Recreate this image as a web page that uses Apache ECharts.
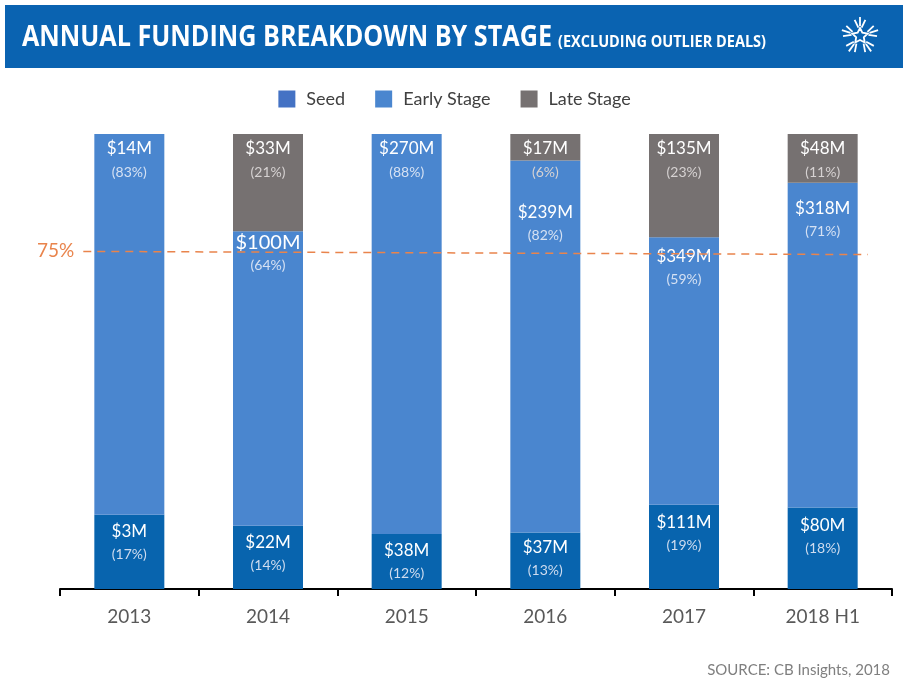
<!DOCTYPE html>
<html>
<head>
<meta charset="utf-8">
<script src="https://cdn.jsdelivr.net/npm/echarts@6/dist/echarts.min.js"></script>
<style>
  html, body { margin: 0; padding: 0; background: #fff; }
  #chart { width: 909px; height: 687px; }
</style>
</head>
<body>
<div id="chart"></div>
<script>
// ---- DATA ----
const categories = ['2013', '2014', '2015', '2016', '2017', '2018 H1'];
const seriesNames = ['Seed', 'Early Stage', 'Late Stage'];
// displayed shares (labels)
const seedPct  = [17, 14, 12, 13, 19, 18];
const earlyPct = [83, 64, 88, 82, 59, 71];
const latePct  = [null, 21, null, 6, 23, 11];
// bar segment heights as drawn (share of 100%)
const seedShare  = [16.3, 13.9, 12.1, 12.4, 18.5, 17.9];
const earlyShare = [83.7, 64.7, 87.9, 81.8, 58.8, 71.4];
const lateShare  = [null, 21.4, null, 5.8, 22.7, 10.7];
// dollar amounts
const seedUsd  = ['$3M', '$22M', '$38M', '$37M', '$111M', '$80M'];
const earlyUsd = ['$14M', '$100M', '$270M', '$239M', '$349M', '$318M'];
const lateUsd  = [null, '$33M', null, '$17M', '$135M', '$48M'];
// 75% reference line (level as drawn at its left and right ends)
const thresholdLabel = '75%';
const thresholdLevel = [74.2, 73.5];

// ---- STYLE ----
const FONT = 'Lato, "Open Sans", sans-serif';
const COL_SEED = '#0864ae';
const COL_EARLY = '#4a86cf';
const COL_LATE = '#767171';
const COL_ORANGE = '#e9844c';
const seedLabelDist  = [6, 6, 6, 4, 7, 7];
const earlyLabelDist = [4, 0, 4, 41, 8, 15];
const lateLabelDist  = [4, 4, 4, 4, 4, 4];
const earlyBig = [false, true, false, false, false, false];

function mkData(vals, dists) {
  return vals.map((v, i) => ({ value: v, label: { distance: dists[i] } }));
}
function mkLabel(usd, pct, pctColor, big) {
  return {
    show: true,
    position: 'insideTop',
    fontFamily: FONT,
    formatter: p => {
      const u = usd[p.dataIndex];
      if (u == null) return '';
      const key = (big && big[p.dataIndex]) ? 'c' : 'a';
      return '{' + key + '|' + u + '}\n{b|(' + pct[p.dataIndex] + '%)}';
    },
    rich: {
      a: { fontFamily: FONT, fontSize: 17, color: '#ffffff', lineHeight: 22 },
      c: { fontFamily: FONT, fontSize: 20, color: '#ffffff', lineHeight: 22 },
      b: { fontFamily: FONT, fontSize: 14, color: pctColor, lineHeight: 24 }
    }
  };
}

// text width helper for fitting header text to the reference widths
const mctx = document.createElement('canvas').getContext('2d');
function fitScale(text, font, target) {
  mctx.font = font;
  return target / mctx.measureText(text).width;
}

const chart = echarts.init(document.getElementById('chart'), null, { renderer: 'canvas' });

// logo starburst
const logo = [];
const cx = 860, cy = 36;
const starPts = [];
for (let k = 0; k < 10; k++) {
  const a = -Math.PI / 2 + k * Math.PI / 5;
  const r = (k % 2 === 0) ? 8 : 4;
  starPts.push([cx + Math.cos(a) * r, cy + Math.sin(a) * r]);
}
logo.push({ type: 'polygon', shape: { points: starPts }, style: { fill: 'none', stroke: '#fff', lineWidth: 1.8 } });
for (let k = 0; k < 5; k++) {
  const a = -Math.PI / 2 + k * 2 * Math.PI / 5;
  [-0.32, 0, 0.32].forEach((da, j) => {
    const r1 = j === 1 ? 10 : 8.5;
    const r2 = j === 1 ? 19 : 17;
    logo.push({
      type: 'line',
      shape: { x1: cx + Math.cos(a + da * 0.6) * r1, y1: cy + Math.sin(a + da * 0.6) * r1,
               x2: cx + Math.cos(a + da) * r2, y2: cy + Math.sin(a + da) * r2 },
      style: { stroke: '#fff', lineWidth: 1.8 }
    });
  });
}

const TITLE_FONT = 'bold 29px "Open Sans", sans-serif';
const SUB_FONT = 'bold 16px "Open Sans", sans-serif';
const titleText = 'ANNUAL FUNDING BREAKDOWN BY STAGE';
const subText = '(EXCLUDING OUTLIER DEALS)';

const option = {
  animation: false,
  backgroundColor: '#ffffff',
  textStyle: { fontFamily: FONT },
  legend: {
    top: 85,
    left: 'center',
    icon: 'rect',
    itemWidth: 17,
    itemHeight: 17,
    itemGap: 30,
    textStyle: { fontFamily: FONT, fontSize: 18, color: '#404040', padding: [0, 0, 0, 6] },
    data: [
      { name: 'Seed', itemStyle: { color: '#4472c4' } },
      { name: 'Early Stage', itemStyle: { color: COL_EARLY } },
      { name: 'Late Stage', itemStyle: { color: COL_LATE } }
    ]
  },
  grid: { left: 60, right: 17, top: 134, bottom: 98 },
  xAxis: [{
    type: 'category',
    data: categories,
    axisLine: { lineStyle: { color: '#000', width: 2 } },
    axisTick: { show: true, length: 7, lineStyle: { color: '#000', width: 2 } },
    axisLabel: { fontFamily: FONT, fontSize: 19, color: '#595959', margin: 18 }
  }, {
    type: 'value', min: 0, max: 100, show: false
  }],
  yAxis: {
    type: 'value', min: 0, max: 100, show: false, splitLine: { show: false }
  },
  series: [
    {
      name: seriesNames[0], type: 'bar', stack: 'total', barWidth: 70,
      itemStyle: { color: COL_SEED },
      data: mkData(seedShare, seedLabelDist),
      label: mkLabel(seedUsd, seedPct, '#cfdcef')
    },
    {
      name: seriesNames[1], type: 'bar', stack: 'total', barWidth: 70,
      itemStyle: { color: COL_EARLY },
      data: mkData(earlyShare, earlyLabelDist),
      label: mkLabel(earlyUsd, earlyPct, '#d5e1f3', earlyBig)
    },
    {
      name: seriesNames[2], type: 'bar', stack: 'total', barWidth: 70,
      itemStyle: { color: COL_LATE },
      data: mkData(lateShare, lateLabelDist),
      label: mkLabel(lateUsd, latePct, '#d6d2d2')
    },
    {
      name: 'threshold', type: 'line', xAxisIndex: 1, data: [], silent: true,
      markLine: {
        symbol: 'none', silent: true,
        lineStyle: { color: COL_ORANGE, type: [8, 6], width: 1.5 },
        label: {
          show: true, position: 'start', distance: 9,
          formatter: thresholdLabel,
          fontFamily: FONT, fontSize: 19, color: COL_ORANGE
        },
        data: [[{ coord: [2.8, thresholdLevel[0]] }, { coord: [97.1, thresholdLevel[1]] }]]
      }
    }
  ],
  graphic: [
    { type: 'rect', shape: { x: 5, y: 5, width: 898, height: 63 }, style: { fill: '#0a63b1' }, z: 0 },
    { type: 'text', x: 22, y: 38, scaleX: fitScale(titleText, TITLE_FONT, 530), z: 2,
      style: { text: titleText, fill: '#fff', font: TITLE_FONT, verticalAlign: 'middle' } },
    { type: 'text', x: 558, y: 42, scaleX: fitScale(subText, SUB_FONT, 208), z: 2,
      style: { text: subText, fill: '#fff', font: SUB_FONT, verticalAlign: 'middle' } },
    { type: 'group', children: logo, z: 2 },
    { type: 'text', right: 19, top: 663, style: { text: 'SOURCE: CB Insights, 2018', fill: '#7f7f7f',
      font: '15px Lato, "Open Sans", sans-serif' } }
  ]
};
chart.setOption(option);
</script>
</body>
</html>
